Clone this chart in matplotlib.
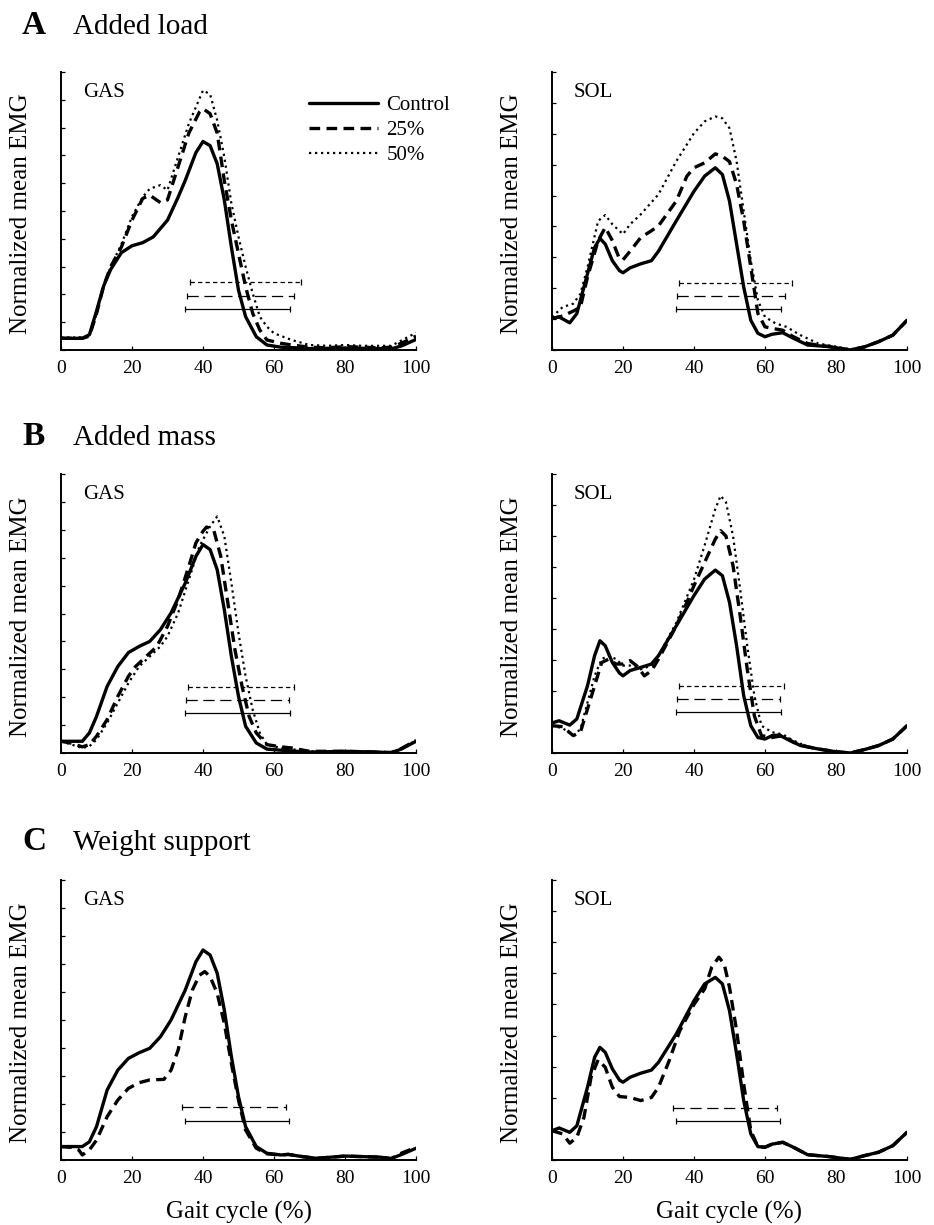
import matplotlib
matplotlib.use("Agg")
import matplotlib.pyplot as plt
import numpy as np

plt.rcParams['font.family'] = ['Liberation Serif', 'DejaVu Serif']

# ---------------- data ----------------
# Panel A (Added load) GAS
ag_c_x = [0,3,6,8,10,12,14,17,20,23,26,30,33,35,38,40,42,44,46,48,50,52,55,58,62,66,70,75,80,85,90,93,96,100]
ag_c_y = [0.42,0.42,0.42,0.55,1.4,2.3,2.9,3.5,3.75,3.86,4.07,4.67,5.5,6.1,7.1,7.5,7.35,6.7,5.4,3.7,2.15,1.2,0.48,0.18,0.1,0.08,0.05,0.06,0.07,0.06,0.05,0.04,0.15,0.38]
ag_25_x = [0,3,6,8,10,12,14,17,20,23,25,28,30,33,36,39,40,42,44,46,48,50,52,54,56,58,62,65,70,75,80,85,90,93,96,100]
ag_25_y = [0.42,0.42,0.42,0.5,1.3,2.3,3.0,3.7,4.67,5.45,5.57,5.3,5.4,6.6,7.8,8.56,8.68,8.5,7.8,6.1,4.67,3.47,2.28,1.32,0.72,0.36,0.24,0.18,0.1,0.08,0.12,0.1,0.08,0.1,0.25,0.5]
ag_50_x = [0,3,6,8,10,12,14,17,20,23,25,28,30,33,36,40,42,44,46,48,50,52,54,56,58,60,65,70,75,80,85,90,93,96,100]
ag_50_y = [0.45,0.45,0.45,0.5,1.3,2.3,3.0,3.8,4.8,5.5,5.8,5.93,5.75,6.95,8.14,9.34,9.2,8.26,6.95,5.27,4.07,3.0,2.04,1.2,0.84,0.6,0.36,0.18,0.15,0.18,0.15,0.15,0.15,0.35,0.62]

# Panel A SOL
as_c_x = [0,2,5,7,10,12,13.5,15,17,19,20,22,25,28,30,35,40,43,46,48,50,52,54,56,58,60,62,65,68,72,78,84,88,92,96,100]
as_c_y = [1.02,1.07,0.88,1.18,2.47,3.32,3.61,3.43,2.89,2.57,2.5,2.66,2.79,2.89,3.2,4.18,5.14,5.63,5.9,5.68,4.82,3.43,2.04,0.96,0.54,0.43,0.51,0.56,0.38,0.16,0.11,0.0,0.1,0.27,0.48,0.96]
as_25_x = [0,3,6,8,10,13,15,17,19,20,22,25,28,30,35,38,40,43,46,48,50,52,54,56,58,60,62,65,68,72,78,84,88,92,96,100]
as_25_y = [1.02,1.1,1.26,1.39,2.36,3.54,3.97,3.54,2.95,2.92,3.2,3.64,3.86,4.02,4.82,5.63,5.9,6.06,6.35,6.27,6.1,5.36,4.18,2.68,1.18,0.75,0.7,0.64,0.43,0.21,0.11,0.0,0.1,0.27,0.48,0.96]
as_50_x = [0,3,6,8,10,13,15,17,20,22,25,30,35,40,43,46,48,50,52,54,56,58,60,63,66,70,75,80,84,88,92,96,100]
as_50_y = [1.07,1.39,1.5,1.82,2.68,4.18,4.37,4.07,3.75,4.07,4.39,5.04,6.11,7.02,7.4,7.56,7.5,7.18,6.11,4.5,2.89,1.61,1.07,0.86,0.75,0.48,0.21,0.11,0.02,0.1,0.27,0.48,0.96]

# Panel B (Added mass) GAS
bg_c_x = [0,3,6,8,10,13,16,19,22,25,28,31,35,38,40,42,44,46,48,50,52,55,58,62,70,80,90,93,96,100]
bg_c_y = [0.42,0.42,0.42,0.72,1.31,2.39,3.1,3.6,3.82,4.0,4.42,5.02,6.09,7.05,7.47,7.29,6.57,5.14,3.46,2.03,0.96,0.36,0.14,0.1,0.03,0.06,0.03,0.0,0.15,0.42]
bg_25_x = [0,3,6,8,10,13,16,19,21,24,27,30,33,36,38,40,41,43,45,47,49,51,53,55,58,62,65,70,80,90,93,96,100]
bg_25_y = [0.42,0.35,0.22,0.3,0.6,1.2,2.03,2.75,3.1,3.46,3.82,4.54,5.5,6.69,7.53,7.95,8.1,8.0,7.05,5.38,3.7,2.39,1.31,0.72,0.3,0.22,0.18,0.06,0.06,0.03,0.02,0.17,0.45]
bg_50_x = [0,3,6,8,10,13,16,19,22,25,28,30,33,36,39,42,44,46,48,50,52,54,56,58,62,70,80,90,93,96,100]
bg_50_y = [0.42,0.3,0.18,0.24,0.48,1.08,1.79,2.51,3.1,3.46,3.82,4.18,5.02,6.21,7.41,8.12,8.48,7.77,6.09,4.3,2.75,1.55,0.72,0.3,0.18,0.06,0.06,0.03,0.02,0.17,0.45]

# Panel B SOL
bs_c_x = [0,2,5,7,10,12,13.5,15,17,19,20,22,25,28,30,35,40,43,46,48,50,52,54,56,58,60,62,64,67,70,75,80,84,88,92,96,100]
bs_c_y = [0.97,1.04,0.9,1.1,2.17,3.14,3.62,3.46,2.92,2.58,2.49,2.66,2.76,2.87,3.14,4.1,5.08,5.61,5.9,5.72,4.86,3.46,1.85,0.88,0.5,0.45,0.56,0.58,0.4,0.24,0.13,0.04,0.0,0.11,0.24,0.45,0.88]
bs_25_x = [0,3,6,8,10,12,14,16,18,20,22,24,26,28,30,35,38,40,43,46,47.5,49,51,53,55,57,59,62,65,68,72,75,80,84,88,92,96,100]
bs_25_y = [0.88,0.85,0.56,0.67,1.42,2.17,2.92,3.03,2.87,2.87,2.98,2.8,2.49,2.65,3.03,4.1,4.86,5.4,6.15,6.9,7.17,7.0,6.04,4.43,2.7,1.2,0.56,0.5,0.56,0.35,0.2,0.13,0.04,0.0,0.11,0.24,0.45,0.88]
bs_50_x = [0,3,6,8,10,12,14,16,18,20,22,25,28,30,35,40,43,46,47.5,49,51,53,55,57,59,62,65,68,72,75,80,84,88,92,96,100]
bs_50_y = [0.88,0.8,0.56,0.77,1.63,2.49,3.03,3.14,3.03,2.82,2.82,2.7,2.82,3.14,4.2,5.6,6.7,7.87,8.3,8.09,7.0,5.29,3.46,1.85,0.88,0.67,0.6,0.4,0.2,0.13,0.04,0.0,0.11,0.24,0.45,0.88]

# Panel C (Weight support) GAS
cg_c_x = [0,3,6,8,10,13,16,19,22,25,28,31,35,38,40,42,44,46,48,50,52,55,58,62,64,68,72,80,90,93,96,100]
cg_c_y = [0.48,0.48,0.48,0.65,1.19,2.5,3.21,3.63,3.83,3.99,4.4,5.0,6.07,7.08,7.5,7.32,6.67,5.36,3.69,2.26,1.19,0.48,0.24,0.18,0.2,0.12,0.06,0.14,0.1,0.05,0.2,0.42]
cg_25_x = [0,3,5,6,8,10,13,16,19,22,25,29,31,33,35,37,39,40.5,42,44,46,48,50,52,55,58,62,64,68,72,80,90,93,96,100]
cg_25_y = [0.48,0.45,0.36,0.18,0.36,0.71,1.55,2.14,2.56,2.76,2.86,2.88,3.21,3.93,5.12,6.07,6.6,6.73,6.55,5.95,4.88,3.45,2.14,1.07,0.42,0.22,0.18,0.2,0.12,0.06,0.14,0.1,0.05,0.25,0.45]

# Panel C SOL
cs_c_x = [0,2,5,7,10,12,13.5,15,17,19,20,22,25,28,30,35,40,43,46,48,50,52,54,56,58,60,62,65,68,72,78,84,88,92,96,100]
cs_c_y = [0.94,1.03,0.89,1.1,2.34,3.3,3.62,3.46,2.93,2.57,2.5,2.66,2.79,2.89,3.14,4.05,5.12,5.66,5.87,5.66,4.8,3.41,1.91,0.84,0.43,0.41,0.51,0.57,0.41,0.17,0.11,0.02,0.14,0.25,0.46,0.89]
cs_25_x = [0,3,5,7,9,11,13,15,17,19,22,25,28,30,33,36,40,43,45,47,48.5,50,52,54,56,58,60,62,65,68,72,78,84,88,92,96,100]
cs_25_y = [0.94,0.84,0.54,0.73,1.37,2.66,3.22,2.98,2.34,2.04,2.01,1.91,2.01,2.34,3.19,4.16,5.0,5.5,6.2,6.52,6.3,5.55,4.16,2.44,0.94,0.43,0.41,0.51,0.57,0.41,0.17,0.11,0.02,0.14,0.25,0.46,0.89]

# Horizontal bars (order: Control, 25%, 50%)
ag_bar_y = [1.49, 1.94, 2.43]; ag_bar_lo = [34.9, 35.5, 36.2]; ag_bar_hi = [64.5, 65.7, 67.6]
as_bar_y = [1.33, 1.74, 2.18]; as_bar_lo = [34.8, 35.2, 35.9]; as_bar_hi = [64.4, 65.6, 67.6]
bg_bar_y = [1.43, 1.91, 2.38]; bg_bar_lo = [34.9, 35.1, 35.7]; bg_bar_hi = [64.5, 64.3, 65.5]
bs_bar_y = [1.31, 1.74, 2.17]; bs_bar_lo = [34.8, 35.2, 35.7]; bs_bar_hi = [64.5, 64.3, 65.4]
cg_bar_y = [1.40, 1.88]; cg_bar_lo = [34.9, 34.0]; cg_bar_hi = [64.3, 63.4]
cs_bar_y = [1.24, 1.67]; cs_bar_lo = [34.8, 34.0]; cs_bar_hi = [64.3, 63.4]

series_labels = ["Control", "25%", "50%"]
muscles = ["GAS", "SOL"]
panel_letters = ["A", "B", "C"]
panel_titles = ["Added load", "Added mass", "Weight support"]
x_ticks = [0, 20, 40, 60, 80, 100]
y_max = {"GAS": 10, "SOL": 9}

# ---------------- styles ----------------
line_styles = [
    dict(color='black', lw=2.4, ls='-', solid_joinstyle='round', solid_capstyle='round'),
    dict(color='black', lw=2.4, ls=(0, (3.2, 1.9)), dash_joinstyle='round'),
    dict(color='black', lw=1.6, ls=(0, (1.0, 1.7))),
]
bar_styles = ['-', (0, (9, 4.5)), (0, (3.5, 2.5))]

W, H = 934, 1225
fig = plt.figure(figsize=(W / 100, H / 100), dpi=100)

def ax_rect(left_px, top_px, right_px, bottom_px):
    return [left_px / W, 1 - bottom_px / H, (right_px - left_px) / W, (bottom_px - top_px) / H]

rows_px = [(72, 350), (474, 753), (880, 1160)]
cols_px = [(61, 416), (552, 907)]

data = {
    (0, 0): ([(ag_c_x, ag_c_y), (ag_25_x, ag_25_y), (ag_50_x, ag_50_y)], (ag_bar_y, ag_bar_lo, ag_bar_hi)),
    (0, 1): ([(as_c_x, as_c_y), (as_25_x, as_25_y), (as_50_x, as_50_y)], (as_bar_y, as_bar_lo, as_bar_hi)),
    (1, 0): ([(bg_c_x, bg_c_y), (bg_25_x, bg_25_y), (bg_50_x, bg_50_y)], (bg_bar_y, bg_bar_lo, bg_bar_hi)),
    (1, 1): ([(bs_c_x, bs_c_y), (bs_25_x, bs_25_y), (bs_50_x, bs_50_y)], (bs_bar_y, bs_bar_lo, bs_bar_hi)),
    (2, 0): ([(cg_c_x, cg_c_y), (cg_25_x, cg_25_y)], (cg_bar_y, cg_bar_lo, cg_bar_hi)),
    (2, 1): ([(cs_c_x, cs_c_y), (cs_25_x, cs_25_y)], (cs_bar_y, cs_bar_lo, cs_bar_hi)),
}

title_baselines = [34, 445, 850]

for r in range(3):
    fig.text(22 / W, 1 - title_baselines[r] / H, panel_letters[r], fontsize=24,
             fontweight='bold', va='baseline', ha='left')
    fig.text(73 / W, 1 - title_baselines[r] / H, panel_titles[r], fontsize=21,
             va='baseline', ha='left')
    for c in range(2):
        (l, rgt) = cols_px[c]
        (t, b) = rows_px[r]
        ax = fig.add_axes(ax_rect(l, t, rgt, b))
        series, bars = data[(r, c)]
        ymax = y_max[muscles[c]]
        handles = []
        for i in reversed(range(len(series))):
            xs, ys = series[i]
            ln, = ax.plot(xs, ys, label=series_labels[i], **line_styles[i])
            handles.append(ln)
        by, blo, bhi = bars
        for i in range(len(by)):
            cen = (blo[i] + bhi[i]) / 2
            hw = (bhi[i] - blo[i]) / 2
            eb = ax.errorbar([cen], [by[i]], xerr=[hw], fmt='none', ecolor='black',
                             elinewidth=0.9, capsize=2.3, capthick=0.9)
            eb[2][0].set_linestyle(bar_styles[i])
        ax.set_xlim(0, 100)
        ax.set_ylim(0, ymax)
        ax.set_xticks(x_ticks)
        ax.set_yticks(np.arange(0, ymax + 1))
        ax.set_yticklabels([])
        ax.tick_params(axis='both', direction='in', length=3, width=0.9)
        ax.tick_params(axis='x', labelsize=14, pad=7)
        for s in ['top', 'right']:
            ax.spines[s].set_visible(False)
        for s in ['left', 'bottom']:
            ax.spines[s].set_linewidth(1.4)
        ax.set_ylabel("Normalized mean EMG", fontsize=18)
        ax.yaxis.set_label_coords(-0.082, 0.49)
        ax.text(0.062, 0.91, muscles[c], transform=ax.transAxes, fontsize=15,
                va='baseline', ha='left')
        if r == 2:
            ax.set_xlabel("Gait cycle (%)", fontsize=18, labelpad=10)
        if r == 0 and c == 0:
            ax.legend(handles=handles[::-1], loc='upper left', bbox_to_anchor=(0.70, 0.915),
                      frameon=False, fontsize=15, handlelength=3.3, handletextpad=0.4,
                      labelspacing=0.25, borderpad=0, borderaxespad=0)

fig.savefig("out.png", dpi=100)
